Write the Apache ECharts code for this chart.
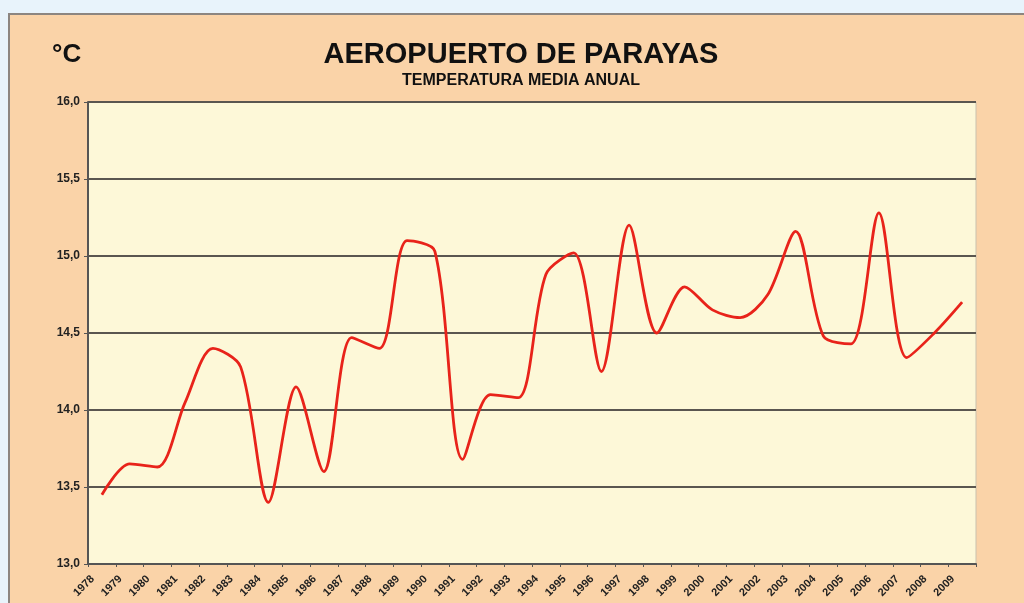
<!DOCTYPE html>
<html>
<head>
<meta charset="utf-8">
<script src="https://cdn.jsdelivr.net/npm/echarts@6/dist/echarts.min.js"></script>
<style>
  html, body { margin: 0; padding: 0; background: #e8f3fb; }
  .panel {
    position: absolute; left: 8px; top: 13px; width: 1030px; height: 600px;
    background: #fad3a8; border-left: 2px solid #8c8580; border-top: 2px solid #8c8580;
  }
  #chart { position: absolute; left: 0; top: 0; width: 1024px; height: 603px; }
</style>
</head>
<body>
<div class="panel"></div>
<div id="chart"></div>
<script>
const years = ['1978', '1979', '1980', '1981', '1982', '1983', '1984', '1985', '1986', '1987',
  '1988', '1989', '1990', '1991', '1992', '1993', '1994', '1995', '1996', '1997',
  '1998', '1999', '2000', '2001', '2002', '2003', '2004', '2005', '2006', '2007',
  '2008', '2009']
const tempMedia = [13.45, 13.65, 13.63, 14.05, 14.4, 14.28, 13.4, 14.15, 13.6, 14.47,
  14.4, 15.1, 15.03, 13.68, 14.1, 14.08, 14.88, 15.02, 14.25, 15.2,
  14.5, 14.8, 14.65, 14.6, 14.75, 15.16, 14.48, 14.43, 15.28, 14.34,
  14.5, 14.7]

const myChart = echarts.init(document.getElementById('chart'))
const font = 'Liberation Sans, Arial, sans-serif'
const option = {
  animation: false,
  textStyle: { fontFamily: font },
  title: {
    text: 'AEROPUERTO DE PARAYAS',
    subtext: 'TEMPERATURA MEDIA ANUAL',
    left: 516,
    textAlign: 'center',
    top: 35,
    itemGap: 4,
    textStyle: { fontSize: 29, fontWeight: 'bold', color: '#111', fontFamily: font },
    subtextStyle: { fontSize: 16, fontWeight: 'bold', color: '#111', fontFamily: font },
  },
  graphic: [
    {
      type: 'text',
      left: 52,
      top: 42,
      style: { text: '°C', fontSize: 26, fontWeight: 'bold', fill: '#111', fontFamily: font },
    },
  ],
  grid: {
    left: 88,
    right: 48,
    top: 102,
    bottom: 39,
    show: true,
    backgroundColor: '#fdf8d8',
    borderColor: '#c9c2ae',
    borderWidth: 1,
  },
  xAxis: {
    type: 'category',
    data: years,
    boundaryGap: true,
    axisLine: { lineStyle: { color: '#555', width: 2 } },
    axisTick: { show: true, length: 3, lineStyle: { color: '#555' } },
    axisLabel: {
      rotate: 45,
      fontSize: 11,
      fontWeight: 'bold',
      color: '#222',
      margin: 4,
      padding: [0, 13, 0, 0],
      interval: 0,
    },
  },
  yAxis: {
    type: 'value',
    min: 13,
    max: 16,
    interval: 0.5,
    axisLine: { show: true, lineStyle: { color: '#555', width: 2 } },
    axisTick: { show: true, length: 4, lineStyle: { color: '#555' } },
    axisLabel: {
      fontSize: 12,
      fontWeight: 'bold',
      color: '#222',
      margin: 8,
      formatter: (v) => v.toFixed(1).replace('.', ','),
    },
    splitLine: { lineStyle: { color: '#5a5650', width: 2 } },
  },
  series: [
    {
      name: 'Temperatura media',
      type: 'line',
      data: tempMedia,
      smooth: 0.3,
      showSymbol: false,
      lineStyle: { color: '#e8231a', width: 2.8 },
    },
  ],
}
myChart.setOption(option)
</script>
</body>
</html>
